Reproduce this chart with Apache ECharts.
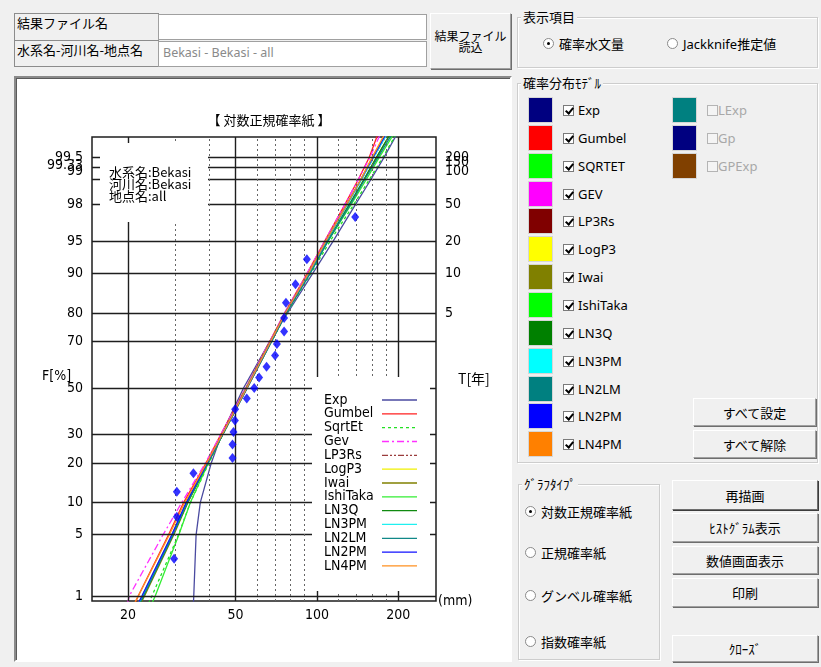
<!DOCTYPE html>
<html>
<head>
<meta charset="utf-8">
<title>対数正規確率紙</title>
<script src="https://cdn.jsdelivr.net/npm/echarts@6/dist/echarts.min.js"></script>
<style>
  body { margin: 0; width: 821px; height: 667px; overflow: hidden; position: relative;
         background: #f0f0f0; color: #000; font-family: "Noto Sans CJK JP", sans-serif; font-size: 13px; }
  .abs { position: absolute; box-sizing: border-box; }
  .cell { background: #f0f0f0; border: 1px solid #8c8c8c; padding-left: 2px; line-height: 18px; }
  .inp { background: #fff; border: 1px solid #a0a0a0; padding-left: 4px; line-height: 22px;
         font-family: "Noto Sans", sans-serif; color: #8a8a8a; font-size: 12.5px; }
  .btn { background: #f0f0f0; border: 1px solid; border-color: #fff #a0a0a0 #a0a0a0 #fff;
         box-shadow: 1px 1px 0 #6e6e6e; text-align: center; display: flex; align-items: center;
         justify-content: center; font-size: 13px; }
  .grp { border: 1px solid #cdcdcd; box-shadow: inset 1px 1px 0 #fff, 1px 1px 0 #fff; }
  .cap { position: absolute; left: 3px; top: -10px; background: #f0f0f0; padding: 0 2px; line-height: 18px; }
  .sw { width: 25px; height: 26px; border: 1px solid #d6d6d6; }
  .cb { width: 11px; height: 11px; border: 1px solid #7a7a7a; background: #fff; }
  .cb.on::after { content: ''; position: absolute; left: 3px; top: 0px; width: 3px; height: 6px;
                  border: solid #000; border-width: 0 2px 2px 0; transform: rotate(40deg); }
  .cb.off { border-color: #b4b4b4; background: #f4f4f4; }
  .lbl { line-height: 16px; font-family: "Noto Sans", "Noto Sans CJK JP", sans-serif; font-size: 13px; white-space: nowrap; }
  .rd { width: 11px; height: 11px; border: 1px solid #8a8a8a; border-radius: 50%; background: #fff; }
  .rd.on::after { content: ''; position: absolute; left: 3px; top: 3px; width: 3px; height: 3px;
                  border-radius: 50%; background: #000; }
  #chart { position: absolute; left: 18px; top: 80px; width: 490px; height: 575px; }
</style>
</head>
<body>

<!-- 結果ファイル -->
<div class="abs cell" style="left:14px;top:13px;width:145px;height:28px;">結果ファイル名</div>
<div class="abs cell" style="left:14px;top:40px;width:145px;height:27px;">水系名-河川名-地点名</div>
<div class="abs inp" style="left:158px;top:14px;width:269px;height:26px;"></div>
<div class="abs inp" style="left:158px;top:41px;width:269px;height:26px;">Bekasi - Bekasi - all</div>
<div class="abs btn" style="left:430px;top:13px;width:81px;height:56px;font-size:12px;line-height:11px;">結果ファイル<br>読込</div>

<!-- グラフ枠 -->
<div class="abs" style="left:14px;top:76px;width:498px;height:586px;background:#fff;border:2px solid;border-color:#8a8a8a #fff #fff #8a8a8a;box-shadow:inset 1px 1px 0 #5a5a5a;"></div>

<!-- 表示項目 -->
<div class="abs grp" style="left:517px;top:17px;width:301px;height:51px;">
  <div class="cap">表示項目</div>
</div>
<div class="abs rd on" style="left:543px;top:38px;"></div>
<div class="abs lbl" style="left:559px;top:36px;">確率水文量</div>
<div class="abs rd" style="left:667px;top:38px;"></div>
<div class="abs lbl" style="left:683px;top:36px;">Jackknife推定値</div>

<!-- 確率分布モデル -->
<div class="abs grp" style="left:517px;top:83px;width:301px;height:380px;">
  <div class="cap">確率分布ﾓﾃﾞﾙ</div>
</div>
<div id="models"></div>
<div class="abs btn" style="left:693px;top:398px;width:123px;height:28px;">すべて設定</div>
<div class="abs btn" style="left:693px;top:430px;width:123px;height:28px;">すべて解除</div>

<!-- グラフタイプ -->
<div class="abs grp" style="left:518px;top:484px;width:142px;height:176px;">
  <div class="cap">ｸﾞﾗﾌﾀｲﾌﾟ</div>
</div>
<div class="abs rd on" style="left:525px;top:506px;"></div>
<div class="abs lbl" style="left:541px;top:504px;">対数正規確率紙</div>
<div class="abs rd" style="left:525px;top:547px;"></div>
<div class="abs lbl" style="left:541px;top:545px;">正規確率紙</div>
<div class="abs rd" style="left:525px;top:590px;"></div>
<div class="abs lbl" style="left:541px;top:588px;">グンベル確率紙</div>
<div class="abs rd" style="left:525px;top:636px;"></div>
<div class="abs lbl" style="left:541px;top:634px;">指数確率紙</div>

<div class="abs btn" style="left:672px;top:480px;width:146px;height:30px;border-color:#fff #6e6e6e #6e6e6e #fff;box-shadow:1px 1px 0 #3c3c3c;">再描画</div>
<div class="abs btn" style="left:672px;top:513px;width:146px;height:29px;">ﾋｽﾄｸﾞﾗﾑ表示</div>
<div class="abs btn" style="left:672px;top:546px;width:146px;height:28px;">数値画面表示</div>
<div class="abs btn" style="left:672px;top:578px;width:146px;height:29px;">印刷</div>
<div class="abs btn" style="left:672px;top:635px;width:146px;height:27px;">ｸﾛｰｽﾞ</div>

<div id="chart"></div>

<script>
// 非超過確率 F[%] (曲線を読む位置)
const probLevels = [0.8, 1, 5, 10, 20, 30, 50, 70, 80, 90, 95, 98, 99, 99.5, 99.8];

// 各モデルの確率水文量 [mm]
const expMm      = [34.9, 35.0, 35.7, 37.0, 40.6, 44.3, 53.5, 67.0, 78.0, 96.5, 115, 139, 158, 177, 201];
const gumbelMm   = [21.2, 21.8, 28.2, 32.1, 38.8, 44.0, 54.5, 67.0, 76.0, 92.0, 107, 127, 142, 156, 170];
const sqrtEtMm   = [23.8, 24.5, 30.7, 34.0, 39.8, 44.8, 55.0, 68.0, 77.5, 95.0, 112, 137, 156, 175, 200];
const gevMm      = [19.9, 20.2, 26.9, 31.6, 38.6, 44.0, 54.5, 67.0, 76.0, 92.0, 107, 127, 142, 157, 174];
const lp3RsMm    = [21.9, 22.6, 29.2, 33.0, 39.3, 44.6, 55.0, 67.5, 76.5, 93.0, 108, 130, 146, 162, 185];
const logP3Mm    = [21.8, 22.5, 29.0, 32.9, 39.3, 44.6, 55.0, 67.5, 76.5, 93.0, 108, 129, 145, 160, 182];
const iwaiMm     = [22.3, 23.0, 29.5, 33.3, 39.5, 44.7, 55.0, 67.5, 76.5, 93.5, 109, 132, 149, 166, 190];
const ishiTakaMm = [24.5, 25.2, 30.8, 34.0, 39.6, 44.6, 54.8, 67.5, 77.0, 94.0, 110, 134, 152, 170, 196];
const ln3QMm     = [22.1, 22.8, 29.3, 33.2, 39.4, 44.7, 55.2, 68.0, 77.0, 94.0, 109.5, 132, 149, 166, 190];
const ln3PMMm    = [21.9, 22.6, 29.1, 33.0, 39.3, 44.6, 55.0, 67.8, 76.8, 93.5, 108.5, 130, 146, 162, 185];
const ln2LMMm    = [22.1, 22.8, 29.3, 33.1, 39.4, 44.7, 55.2, 68.0, 77.2, 94.5, 110, 133, 150, 168, 193];
const ln2PMMm    = [21.8, 22.5, 29.0, 32.8, 39.2, 44.5, 55.0, 67.5, 76.5, 93.0, 108, 129, 145, 161, 183];
const ln4PMMm    = [21.1, 21.8, 28.4, 32.4, 39.0, 44.5, 55.0, 67.5, 76.5, 93.0, 108, 129, 145, 160, 181];

const modelNames  = ['Exp', 'Gumbel', 'SqrtEt', 'Gev', 'LP3Rs', 'LogP3', 'Iwai', 'IshiTaka', 'LN3Q', 'LN3PM', 'LN2LM', 'LN2PM', 'LN4PM'];
const panelNames  = ['Exp', 'Gumbel', 'SQRTET', 'GEV', 'LP3Rs', 'LogP3', 'Iwai', 'IshiTaka', 'LN3Q', 'LN3PM', 'LN2LM', 'LN2PM', 'LN4PM'];
const modelColors = ['#000080', '#ff0000', '#00ff00', '#ff00ff', '#800000', '#ffff00', '#808000', '#00ff00', '#008000', '#00ffff', '#008080', '#0000ff', '#ff8000'];
const lineColors  = ['#4a4aa0', '#ff2020', '#22e022', '#ff30ff', '#9a3c3c', '#f0f000', '#808000', '#33ee33', '#108a10', '#20f0f0', '#108888', '#1010ff', '#ff9020'];
const modelMm = [expMm, gumbelMm, sqrtEtMm, gevMm, lp3RsMm, logP3Mm, iwaiMm, ishiTakaMm, ln3QMm, ln3PMMm, ln2LMMm, ln2PMMm, ln4PMMm];
const lineDash = ['solid', 'solid', [3, 3], [7, 3, 2, 3], [6, 2, 2, 2, 2, 2], 'solid', 'solid', 'solid', 'solid', 'solid', 'solid', 'solid', 'solid'];

const extraNames  = ['LExp', 'Gp', 'GPExp'];
const extraColors = ['#008080', '#000080', '#804000'];

// 観測値 (プロット)
const obsF  = [2.8, 7.5, 12.3, 17.0, 21.7, 26.4, 31.1, 35.8, 40.6, 45.3, 50.0, 54.7, 59.4, 64.2, 68.9, 73.6, 78.3, 83.0, 87.7, 92.5, 97.2];
const obsMm = [29.6, 30.3, 30.3, 34.9, 48.7, 48.7, 49.1, 49.7, 49.8, 55.0, 58.6, 61.1, 65.1, 70.0, 71.1, 75.6, 75.6, 76.8, 83.3, 91.8, 138.6];

// 目盛
const fTicks = [1, 5, 10, 20, 30, 50, 70, 80, 90, 95, 98, 99, 99.33, 99.5];
const tTicks = [5, 10, 20, 50, 100, 150, 200];
const mmLabels = [20, 50, 100, 200];
const mmDotted = [30, 40, 60, 70, 80, 90, 120, 140, 160, 180];
const fRange = [0.86, 99.75];
const mmRange = [14.7, 276];

// inverse standard normal (Acklam)
function probit(p) {
  const a = [-3.969683028665376e+01, 2.209460984245205e+02, -2.759285104469687e+02, 1.383577518672690e+02, -3.066479806614716e+01, 2.506628277459239e+00];
  const b = [-5.447609879822406e+01, 1.615858368580409e+02, -1.556989798598866e+02, 6.680131188771011e+01, -1.328068155288572e+01];
  const c = [-7.784894002430293e-03, -3.223964580411365e-01, -2.400758277161838e+00, -2.549732539343734e+00, 4.374664141464968e+00, 2.938163982698783e+00];
  const d = [7.784695709041462e-03, 3.224671290700398e-01, 2.445134137142996e+00, 3.754408661907416e+00];
  const lo = 0.02425;
  let q, r;
  if (p < lo) {
    q = Math.sqrt(-2 * Math.log(p));
    return (((((c[0] * q + c[1]) * q + c[2]) * q + c[3]) * q + c[4]) * q + c[5]) / ((((d[0] * q + d[1]) * q + d[2]) * q + d[3]) * q + 1);
  }
  if (p > 1 - lo) {
    q = Math.sqrt(-2 * Math.log(1 - p));
    return -(((((c[0] * q + c[1]) * q + c[2]) * q + c[3]) * q + c[4]) * q + c[5]) / ((((d[0] * q + d[1]) * q + d[2]) * q + d[3]) * q + 1);
  }
  q = p - 0.5;
  r = q * q;
  return (((((a[0] * r + a[1]) * r + a[2]) * r + a[3]) * r + a[4]) * r + a[5]) * q / (((((b[0] * r + b[1]) * r + b[2]) * r + b[3]) * r + b[4]) * r + 1);
}
const zOfF = (f) => probit(f / 100);
const zOfT = (t) => probit(1 - 1 / t);

// 右パネルの色見本とチェック
(function buildPanel() {
  const box = document.getElementById('models');
  let html = '';
  panelNames.forEach((name, i) => {
    const top = 97 + i * 27.85;
    html += `<div class="abs sw" style="left:528px;top:${top}px;background:${modelColors[i]}"></div>`;
    html += `<div class="abs cb on" style="left:563px;top:${top + 8}px"></div>`;
    html += `<div class="abs lbl" style="left:578px;top:${top + 5}px">${name}</div>`;
  });
  extraNames.forEach((name, i) => {
    const top = 97 + i * 27.85;
    html += `<div class="abs sw" style="left:672px;top:${top}px;background:${extraColors[i]}"></div>`;
    html += `<div class="abs cb off" style="left:707px;top:${top + 8}px"></div>`;
    html += `<div class="abs lbl" style="left:718px;top:${top + 5}px;color:#a8a8a8">${name}</div>`;
  });
  box.innerHTML = html;
})();

const numFont = '"Liberation Sans Narrow", "Arial Narrow", "DejaVu Sans Condensed", sans-serif';
const jpFont = '"Liberation Sans Narrow", "Noto Sans CJK JP", sans-serif';

// 目盛ラベルの重なり回避 (上にずらす量 px)
const leftShift = { '99.33': 2, '99': 8 };
const rightShift = { '150': 5, '100': 8 };

function tickLabel(text, shift, position) {
  const base = { show: true, position: position, distance: 9, color: '#000', fontSize: 14, fontFamily: numFont };
  if (!shift) return Object.assign(base, { formatter: text });
  return Object.assign(base, {
    formatter: `{s|${text}}`,
    rich: { s: { fontFamily: numFont, fontSize: 14, color: '#000', padding: [0, 0, shift * 2, 0] } }
  });
}

const solidGrid = { color: '#1e1e1e', width: 1.4, type: 'solid' };
const gridLines = [];
fTicks.forEach((f) => gridLines.push({
  yAxis: zOfF(f), lineStyle: solidGrid,
  label: tickLabel(String(f), leftShift[String(f)], 'start')
}));
// 再現期間 T[年] は同じ横線の右端に (線自体は透明)
tTicks.forEach((t) => gridLines.push({
  yAxis: zOfT(t), lineStyle: { color: 'rgba(0,0,0,0)', width: 1 },
  label: tickLabel(String(t), rightShift[String(t)], 'end')
}));
mmLabels.forEach((v) => gridLines.push({
  xAxis: v, lineStyle: solidGrid,
  label: Object.assign(tickLabel(String(v), 0, 'start'), { distance: 7 })
}));
mmDotted.forEach((v) => gridLines.push({ xAxis: v, lineStyle: { color: '#666', width: 1, type: [2, 3] } }));

const chart = echarts.init(document.getElementById('chart'));

const series = [{
  type: 'line',
  name: 'grid',
  data: [],
  silent: true,
  z: 1,
  markLine: {
    silent: true,
    symbol: ['none', 'none'],
    animation: false,
    label: { show: false },
    emphasis: { disabled: true },
    data: gridLines
  }
}];

modelNames.forEach((name, i) => {
  series.push({
    type: 'line',
    name: name,
    data: probLevels.map((f, j) => [modelMm[i][j], zOfF(f)]),
    showSymbol: false,
    symbol: 'none',
    silent: true,
    z: 3,
    lineStyle: { color: lineColors[i], width: 1.3, type: lineDash[i] }
  });
});

series.push({
  type: 'scatter',
  name: '観測値',
  data: obsMm.map((v, i) => [v, zOfF(obsF[i])]),
  symbol: 'diamond',
  symbolSize: [8, 10],
  itemStyle: { color: '#0000ff' },
  z: 5
});

// 凡例 (文字が左、線見本が右)
const legendEls = [{
  type: 'rect', z: 100,
  shape: { x: 294, y: 297, width: 118, height: 214 },
  style: { fill: '#fff' }
}];
modelNames.forEach((name, i) => {
  const y = 320 + i * 13.83;
  legendEls.push({
    type: 'text', z: 101,
    style: { x: 306, y: y, text: name, fill: '#000', font: '14px ' + numFont, verticalAlign: 'middle' }
  });
  const dash = lineDash[i];
  legendEls.push({
    type: 'line', z: 101,
    shape: { x1: 364, y1: y, x2: 399, y2: y },
    style: { stroke: lineColors[i], lineWidth: 1.3, lineDash: dash === 'solid' ? null : dash }
  });
});

const infoEls = [{
  type: 'rect', z: 100,
  shape: { x: 82, y: 63, width: 108, height: 79 },
  style: { fill: '#fff' }
}];
['水系名:Bekasi', '河川名:Bekasi', '地点名:all'].forEach((t, i) => {
  infoEls.push({
    type: 'text', z: 101,
    style: { x: 91, y: 92 + i * 11.8, text: t, fill: '#000', font: '13px ' + jpFont, verticalAlign: 'middle' }
  });
});

const axisNameEls = [
  { type: 'text', z: 101, style: { x: 24, y: 296, text: 'F[%]', fill: '#000', font: '14px ' + numFont, verticalAlign: 'middle' } },
  { type: 'text', z: 101, style: { x: 440, y: 299, text: 'T[年]', fill: '#000', font: '14px ' + jpFont, verticalAlign: 'middle' } }
];

chart.setOption({
  backgroundColor: 'transparent',
  animation: false,
  title: {
    text: '【 対数正規確率紙 】',
    left: 246,
    top: 29,
    textAlign: 'center',
    textStyle: { fontFamily: '"Noto Sans CJK JP", sans-serif', fontSize: 13, fontWeight: 'normal', color: '#000' }
  },
  grid: {
    left: 74, top: 57, width: 344, height: 464,
    show: true, borderColor: '#1e1e1e', borderWidth: 1.5, backgroundColor: 'transparent'
  },
  xAxis: {
    type: 'log',
    logBase: 10,
    min: mmRange[0],
    max: mmRange[1],
    name: '(mm)',
    nameLocation: 'end',
    nameGap: 2,
    nameTextStyle: { fontFamily: numFont, fontSize: 14, color: '#000', verticalAlign: 'middle', padding: [28, 0, 0, 0] },
    axisLine: { show: false, onZero: false },
    axisTick: { show: false },
    axisLabel: { show: false },
    splitLine: { show: false }
  },
  yAxis: {
    type: 'value',
    min: zOfF(fRange[0]),
    max: zOfF(fRange[1]),
    axisLine: { show: false, onZero: false },
    axisTick: { show: false },
    axisLabel: { show: false },
    splitLine: { show: false }
  },
  graphic: { elements: legendEls.concat(infoEls, axisNameEls) },
  series: series
});
</script>
</body>
</html>
